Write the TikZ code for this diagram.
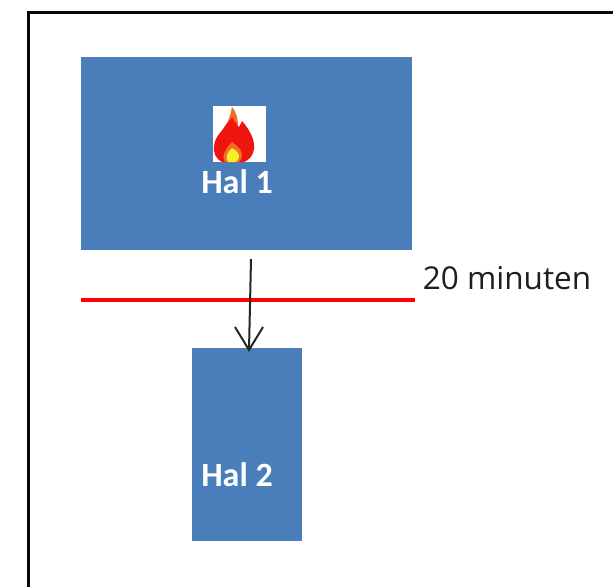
\documentclass[tikz,border=0pt]{standalone}
\usepackage{fontspec}
\setmainfont{Carlito}
\newfontfamily\labelfont{Open Sans}
\definecolor{halblue}{RGB}{74,126,187}
\definecolor{frameblk}{RGB}{8,8,8}
\definecolor{labelgray}{RGB}{30,30,30}
\definecolor{flamered}{RGB}{240,20,15}
\definecolor{flameorange}{RGB}{240,110,40}
\definecolor{flameyellow}{RGB}{245,240,40}
\tikzset{
  hal/.style={fill=halblue,draw=none,inner sep=0pt,text=white,font=\bfseries\fontsize{34}{38}\selectfont},
  plain/.style={inner sep=0pt,text=labelgray,font=\labelfont\fontsize{31.5}{36}\selectfont},
  framing/.style={draw=frameblk,line width=3pt},
  redline/.style={draw=red,line width=4pt},
  connector/.style={draw=black!85,line width=2pt}
}
\begin{document}
\begin{tikzpicture}[x=1pt,y=-1pt]
\useasboundingbox (0,0) rectangle (613,587);
\fill[white] (0,0) rectangle (613,587);
\draw[framing] (28,587) -- (28,12) -- (613,12);
% halls
\node[hal,minimum width=331pt,minimum height=193pt] (hal1) at (246.5,153.5) {};
\node[hal,minimum width=110pt,minimum height=193pt] (hal2) at (247,444.5) {};
% flame icon
\fill[white] (213,106) rectangle (266,162);
\fill[flameorange] (232,107) .. controls (236,112) and (238,118) .. (238,125)
  -- (225,127) .. controls (229,120) and (231,113) .. (232,107) -- cycle;
\fill[flamered] (232,117) .. controls (235,122) and (237,125) .. (239,127)
  .. controls (240,125) and (241,123) .. (242,121)
  .. controls (250,130) and (255,140) .. (254,149)
  .. controls (253,156) and (249,160) .. (244,162)
  -- (222,162) .. controls (216,159) and (213,153) .. (214,146)
  .. controls (215,136) and (222,132) .. (225,126)
  .. controls (227,123) and (231,120) .. (232,117) -- cycle;
\fill[flameorange] (232,142) .. controls (238,146) and (243,151) .. (242,157)
  .. controls (241,160) and (240,161) .. (239,162) -- (225,162)
  .. controls (222,158) and (223,151) .. (232,142) -- cycle;
\fill[flameyellow] (232,148) .. controls (236,150) and (240,154) .. (239,158)
  .. controls (238,160) and (237,161) .. (236,162) -- (228,162)
  .. controls (225,158) and (227,152) .. (232,148) -- cycle;
\node[hal,fill=none] (hal1text) at (237,182) {Hal 1};
\node[hal,fill=none] (hal2text) at (237,475) {Hal 2};
% red line and label
\coordinate (redstart) at (81,300);
\coordinate (redend) at (415,300);
\draw[redline] (redstart) -- (redend);
\node[plain] (label) at (507,278) {20 minuten};
% arrow
\coordinate (arrowstart) at (251,259);
\coordinate (arrowtip) at (249,350);
\coordinate (barbl) at (235,327);
\coordinate (barbr) at (263,327);
\draw[connector] (arrowstart) -- (arrowtip);
\draw[connector] (barbl) -- (arrowtip) -- (barbr);
\end{tikzpicture}
\end{document}
